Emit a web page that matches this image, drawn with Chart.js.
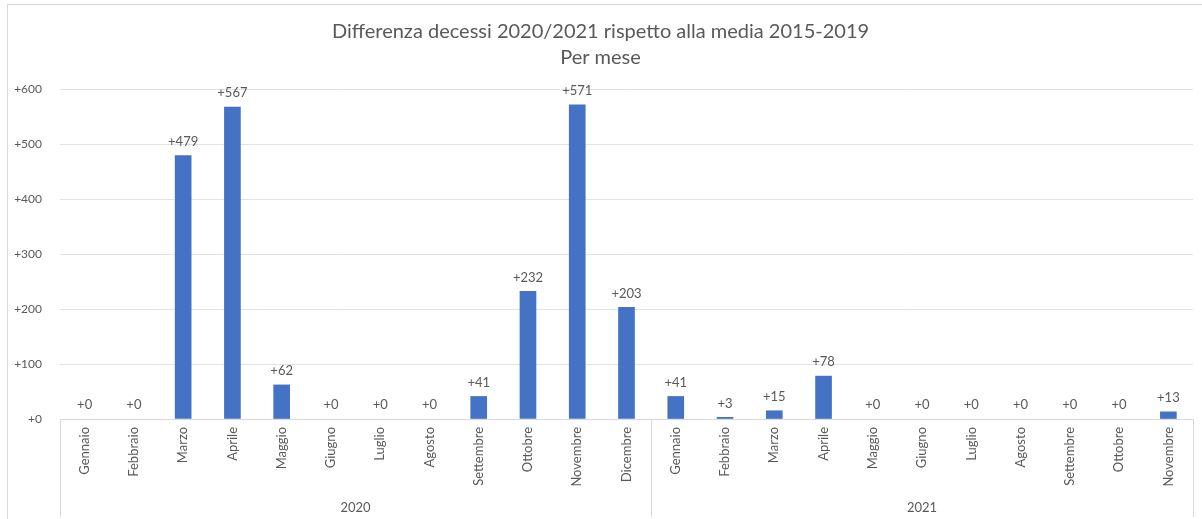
<!DOCTYPE html>
<html>
<head>
<meta charset="utf-8">
<script src="https://cdn.jsdelivr.net/npm/chart.js@4.4.1/dist/chart.umd.min.js"></script>
<style>
  html, body { margin: 0; padding: 0; background: #fff; overflow: hidden; }
  #box { position: absolute; left: 7px; top: 4px; width: 1200px; height: 520px;
         border-top: 1px solid #d9d9d9; border-left: 1px solid #d9d9d9; }
  #wrap { position: absolute; left: 0; top: 0; width: 1194px; height: 514px; }
</style>
</head>
<body>
<div id="box"><div id="wrap"><canvas id="chart"></canvas></div></div>
<script>
// Dati
const mesi2020 = ["Gennaio", "Febbraio", "Marzo", "Aprile", "Maggio", "Giugno", "Luglio", "Agosto", "Settembre", "Ottobre", "Novembre", "Dicembre"];
const mesi2021 = ["Gennaio", "Febbraio", "Marzo", "Aprile", "Maggio", "Giugno", "Luglio", "Agosto", "Settembre", "Ottobre", "Novembre"];
const valori2020 = [0, 0, 479, 567, 62, 0, 0, 0, 41, 232, 571, 203];
const valori2021 = [41, 3, 15, 78, 0, 0, 0, 0, 0, 0, 13];
const anni = ["2020", "2021"];
const yTicks = [0, 100, 200, 300, 400, 500, 600];

const labels = mesi2020.concat(mesi2021);
const valori = valori2020.concat(valori2021);
const gruppi = [mesi2020.length, mesi2021.length];

const FONT = "Lato, 'Open Sans', sans-serif";
const GRIGIO = "#595959";

// Etichette dei valori sopra le barre
const etichettePlugin = {
    id: "etichette",
    afterDatasetsDraw(chart) {
        const ctx = chart.ctx;
        const meta = chart.getDatasetMeta(0);
        ctx.save();
        ctx.font = "13px " + FONT;
        ctx.fillStyle = GRIGIO;
        ctx.textAlign = "center";
        ctx.textBaseline = "middle";
        meta.data.forEach((bar, i) => {
            ctx.fillText("+" + valori[i], bar.x, bar.y - 14);
        });
        ctx.restore();
    }
};

// Asse a due livelli: separatori e anni
const anniPlugin = {
    id: "anni",
    afterDraw(chart) {
        const ctx = chart.ctx;
        const x = chart.scales.x;
        const area = chart.chartArea;
        const half = (x.getPixelForValue(1) - x.getPixelForValue(0)) / 2;
        const fondo = chart.height - 2;
        ctx.save();
        ctx.strokeStyle = "#d9d9d9";
        ctx.lineWidth = 1;
        ctx.font = "13px " + FONT;
        ctx.fillStyle = GRIGIO;
        ctx.textAlign = "center";
        ctx.textBaseline = "middle";
        let start = 0;
        const bordi = [area.left];
        gruppi.forEach((n, g) => {
            const x0 = x.getPixelForValue(start) - half;
            const x1 = x.getPixelForValue(start + n - 1) + half;
            bordi.push(x1);
            ctx.fillText(anni[g], (x0 + x1) / 2, fondo - 9);
            start += n;
        });
        bordi.forEach(bx => {
            const px = Math.round(bx) + 0.5;
            ctx.beginPath();
            ctx.moveTo(px, area.bottom);
            ctx.lineTo(px, fondo);
            ctx.stroke();
        });
        ctx.restore();
    }
};

new Chart(document.getElementById("chart"), {
    type: "bar",
    data: {
        labels: labels,
        datasets: [{
            data: valori,
            // le barre a zero non si vedono
            backgroundColor: valori.map(v => v === 0 ? "rgba(0,0,0,0)" : "#4472c4"),
            barThickness: 16
        }]
    },
    options: {
        responsive: true,
        maintainAspectRatio: false,
        animation: false,
        layout: { padding: { left: 0, right: 9, top: 0, bottom: 0 } },
        plugins: {
            legend: { display: false },
            tooltip: { enabled: false },
            title: {
                display: true,
                text: ["Differenza decessi 2020/2021 rispetto alla media 2015-2019", "Per mese"],
                color: GRIGIO,
                font: { family: FONT, size: 20, weight: "normal", lineHeight: 1.3 },
                padding: { top: 14, bottom: 18 }
            }
        },
        scales: {
            x: {
                grid: { display: false, drawTicks: false },
                border: { color: "#d9d9d9" },
                ticks: {
                    color: GRIGIO,
                    font: { family: FONT, size: 13 },
                    minRotation: 90,
                    maxRotation: 90,
                    padding: 8,
                    autoSkip: false
                },
                afterFit(scale) { scale.height = 100; }
            },
            y: {
                min: 0,
                max: 600,
                afterBuildTicks(scale) { scale.ticks = yTicks.map(v => ({ value: v })); },
                grid: { color: "#e3e3e3", drawTicks: false },
                border: { display: false },
                ticks: {
                    color: GRIGIO,
                    font: { family: FONT, size: 12 },
                    padding: 18,
                    callback: v => "+" + v
                },
                afterFit(scale) { scale.width = 52; }
            }
        }
    },
    plugins: [etichettePlugin, anniPlugin]
});
</script>
</body>
</html>
